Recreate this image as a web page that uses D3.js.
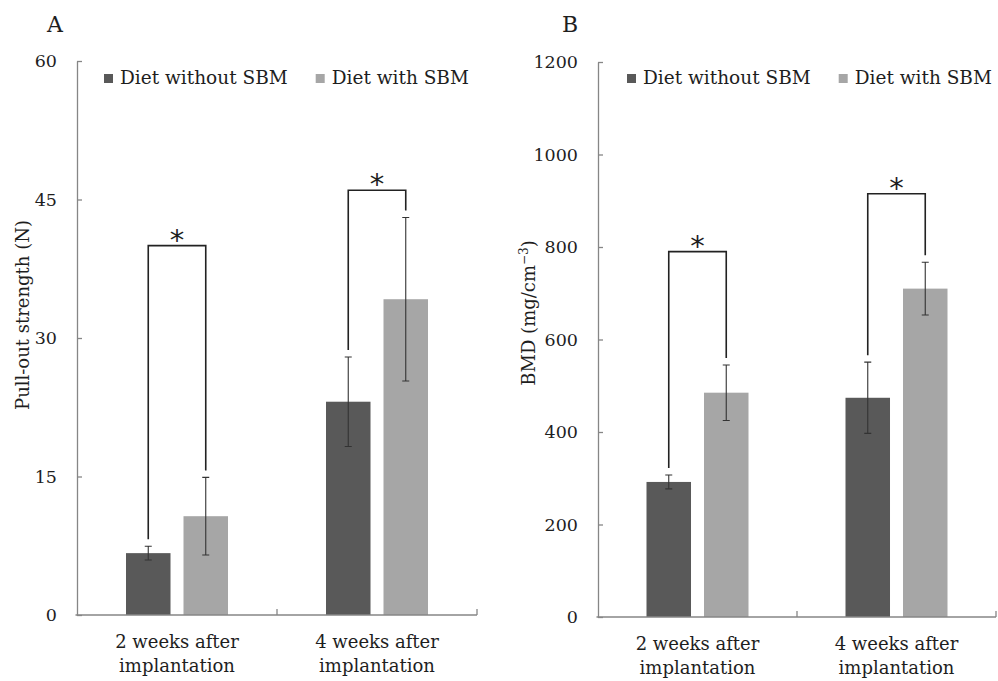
<!DOCTYPE html>
<html>
<head>
<meta charset="utf-8">
<script src="https://cdn.jsdelivr.net/npm/d3@7"></script>
<style>
  body { margin: 0; background: #fff; }
  text { font-family: "DejaVu Serif", serif; fill: #1e1e1e; }
</style>
</head>
<body>
<svg id="chart" width="998" height="681"></svg>
<script>
// data
const categories = [["2 weeks after", "implantation"], ["4 weeks after", "implantation"]];
const groups = ["Diet without SBM", "Diet with SBM"];
const colors = ["#595959", "#a6a6a6"];

const pullTicks = [0, 15, 30, 45, 60];
const pullWithout = [6.7, 23.1];
const pullWith = [10.7, 34.2];
const pullWithoutSd = [0.75, 4.85];
const pullWithSd = [4.2, 8.85];
const pullStar = [40, 46];

const bmdTicks = [0, 200, 400, 600, 800, 1000, 1200];
const bmdWithout = [292, 474];
const bmdWith = [485, 710];
const bmdWithoutSd = [15, 77];
const bmdWithSd = [60, 57];
const bmdStar = [790, 915];

const svg = d3.select("#chart");

function drawPanel(p) {
  const g = svg.append("g");
  const y = d3.scaleLinear().domain([0, d3.max(p.ticks)]).range([p.bottom, p.top]);
  const x0 = d3.scaleBand().domain(d3.range(categories.length)).range([p.left, p.right]);
  const half = 51;
  const x1 = d3.scaleBand().domain(d3.range(groups.length))
    .range([x0.bandwidth() / 2 - half, x0.bandwidth() / 2 + half]).paddingInner(0.226);

  const rows = categories.map((c, i) => [
    { i: i, k: 0, v: p.without[i], e: p.withoutSd[i] },
    { i: i, k: 1, v: p.with[i], e: p.withSd[i] }
  ]);
  const flat = rows.flat();
  const cx = d => x0(d.i) + x1(d.k) + x1.bandwidth() / 2;

  // panel letter
  g.append("text").attr("x", p.letterX).attr("y", 32)
    .attr("text-anchor", "middle").style("font-size", "22px").text(p.letter);

  // bars
  g.selectAll(".bar").data(flat).join("rect")
    .attr("x", d => x0(d.i) + x1(d.k))
    .attr("width", x1.bandwidth())
    .attr("y", d => y(d.v))
    .attr("height", d => y(0) - y(d.v))
    .attr("fill", d => colors[d.k]);

  // error bars
  g.selectAll(".err").data(flat).join("path")
    .attr("d", d => {
      const a = y(d.v + d.e), b = y(d.v - d.e), x = cx(d);
      return `M${x - 3.5},${a}H${x + 3.5}M${x},${a}V${b}M${x - 3.5},${b}H${x + 3.5}`;
    })
    .attr("fill", "none").attr("stroke", "#333").attr("stroke-width", 1.1);

  // significance brackets
  g.selectAll(".sig").data(rows).join("path")
    .attr("d", (r, i) => {
      const top = y(p.star[i]);
      const lb = y(r[0].v + r[0].e) - 7, rb = y(r[1].v + r[1].e) - 7;
      return `M${cx(r[0])},${lb}V${top}H${cx(r[1])}V${rb}`;
    })
    .attr("fill", "none").attr("stroke", "#222").attr("stroke-width", 1.6);

  g.selectAll(".star").data(rows).join("text")
    .attr("x", r => (cx(r[0]) + cx(r[1])) / 2)
    .attr("y", (r, i) => y(p.star[i]) + 4)
    .attr("text-anchor", "middle")
    .style("font-family", "'DejaVu Sans', sans-serif")
    .style("font-size", "29px")
    .text("*");

  // y axis
  const yAxis = g.append("g").attr("transform", `translate(${p.left},0)`)
    .call(d3.axisLeft(y).tickValues(p.ticks).tickFormat(d3.format("d"))
      .tickSizeInner(-5).tickSizeOuter(0).tickPadding(20));
  yAxis.selectAll("path, line").attr("stroke", "#868686").attr("stroke-width", 1.3);
  yAxis.selectAll("text").style("font-size", "17.5px").style("font-family", "'DejaVu Serif', serif").attr("fill", "#1e1e1e");

  // x axis
  const xAxis = g.append("g").attr("transform", `translate(0,${p.bottom})`)
    .call(d3.axisBottom(x0).tickSize(0).tickSizeOuter(0));
  xAxis.select(".domain").attr("d", `M${p.left - 1.5},0H${p.right}`)
    .attr("stroke", "#868686").attr("stroke-width", 1.3);
  xAxis.selectAll(".tick text").each(function (i) {
    const t = d3.select(this).text(null).attr("y", 33).attr("dy", null)
      .style("font-size", "18px").style("font-family", "'DejaVu Serif', serif").attr("fill", "#1e1e1e");
    categories[i].forEach((line, k) => t.append("tspan").attr("x", 0).attr("dy", k ? 24 : 0).text(line));
  });
  xAxis.selectAll(".sep").data(d3.range(categories.length)).join("line")
    .attr("x1", i => x0(i) + x0.step()).attr("x2", i => x0(i) + x0.step())
    .attr("y1", 0).attr("y2", -6)
    .attr("stroke", "#868686").attr("stroke-width", 1.3);

  // y label
  const yl = g.append("text")
    .attr("transform", `translate(${p.labelX},${p.labelY}) rotate(-90)`)
    .attr("text-anchor", "middle").style("font-size", "18px");
  p.yLabel.forEach(s => {
    const ts = yl.append("tspan").text(s.t);
    if (s.sup) ts.style("font-size", "12px").attr("dy", -7);
    if (s.down) ts.attr("dy", 7);
  });

  // legend
  let lx = p.left + p.legendOffset;
  groups.forEach((name, k) => {
    g.append("rect").attr("x", lx).attr("y", 74).attr("width", 9).attr("height", 9).attr("fill", colors[k]);
    const t = g.append("text").attr("x", lx + 16).attr("y", 84).style("font-size", "18.5px").text(name);
    lx = lx + 16 + t.node().getComputedTextLength() + 28;
  });
}

drawPanel({
  letter: "A", letterX: 55,
  left: 77, right: 477, top: 61, bottom: 615,
  ticks: pullTicks,
  without: pullWithout, with: pullWith,
  withoutSd: pullWithoutSd, withSd: pullWithSd,
  star: pullStar,
  labelX: 29, labelY: 315,
  yLabel: [{ t: "Pull-out strength (N)" }],
  legendOffset: 27
});

drawPanel({
  letter: "B", letterX: 570,
  left: 598, right: 996, top: 62, bottom: 617,
  ticks: bmdTicks,
  without: bmdWithout, with: bmdWith,
  withoutSd: bmdWithoutSd, withSd: bmdWithSd,
  star: bmdStar,
  labelX: 535, labelY: 313,
  yLabel: [{ t: "BMD (mg/cm" }, { t: "\u22123", sup: true }, { t: ")", down: true }],
  legendOffset: 29
});
</script>
</body>
</html>
